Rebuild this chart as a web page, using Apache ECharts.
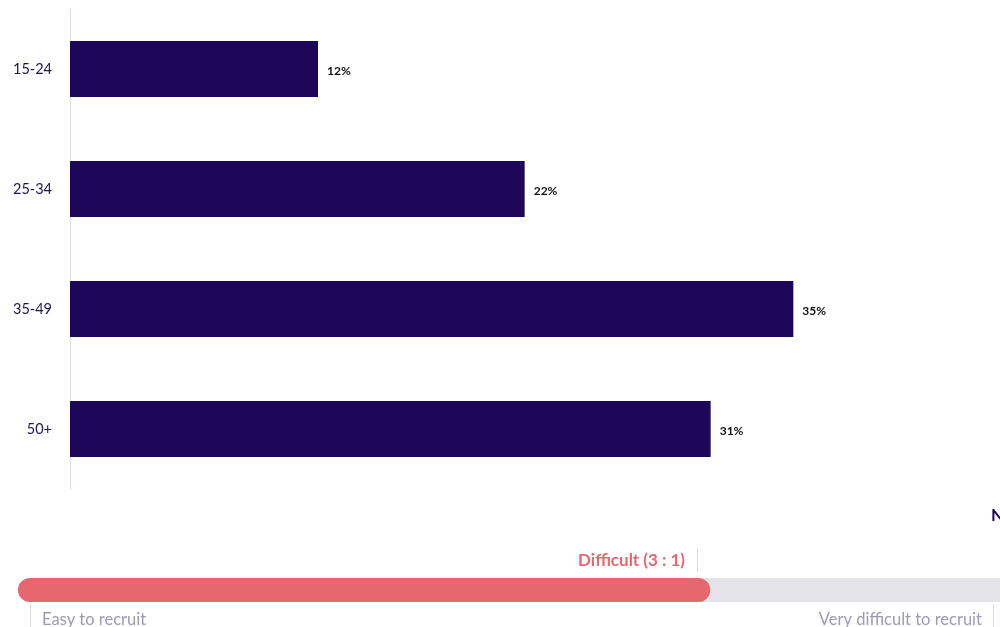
<!DOCTYPE html>
<html><head><meta charset="utf-8">
<script src="https://cdn.jsdelivr.net/npm/echarts@6/dist/echarts.min.js"></script>
<style>html,body{margin:0;padding:0;background:#fff}#c{width:1000px;height:627px}</style>
</head><body><div id="c"></div>
<script>
const categories = ['15-24', '25-34', '35-49', '50+'];
const shares = [12, 22, 35, 31];
const difficultyLabel = 'Difficult (3 : 1)';
const difficultyValue = [70.5];
const scaleLabels = ['Easy to recruit', 'Very difficult to recruit'];

const chart = echarts.init(document.getElementById('c'));
chart.setOption({
  animation: false,
  textStyle: { fontFamily: 'Lato' },
  grid: [
    { left: 70, top: 9, width: 930, height: 480 },
    { left: 18, right: 0, top: 578, height: 24 }
  ],
  xAxis: [
    { gridIndex: 0, type: 'value', min: 0, max: 45, show: false },
    { gridIndex: 1, type: 'value', min: 0, max: 100, show: false }
  ],
  yAxis: [
    { gridIndex: 0, type: 'category', data: categories, inverse: true,
      axisLine: { show: true, lineStyle: { color: '#d9dde5', width: 1 } },
      axisTick: { show: false },
      axisLabel: { color: '#1f1550', fontSize: 14.5, margin: 18, fontFamily: 'Lato' } },
    { gridIndex: 1, type: 'category', data: [''], show: false }
  ],
  series: [
    { type: 'bar', xAxisIndex: 0, yAxisIndex: 0, data: shares, barWidth: 56,
      itemStyle: { color: '#1e0659' },
      label: { show: true, position: 'right', distance: 9, formatter: '{c}%',
        color: '#111', fontSize: 12, fontWeight: 'bold', fontFamily: 'Lato', offset: [0, 2] } },
    { type: 'bar', xAxisIndex: 1, yAxisIndex: 1, data: difficultyValue, barWidth: 24,
      itemStyle: { color: '#e6676d', borderRadius: 12 },
      showBackground: true,
      backgroundStyle: { color: '#e4e3ea', borderRadius: [12, 0, 0, 12] } }
  ],
  graphic: [
    { type: 'text', left: 991, top: 507, style: { text: 'N', fill: '#1e0659', font: 'bold 17px Lato' } },
    { type: 'line', shape: { x1: 697.5, y1: 549, x2: 697.5, y2: 572 }, style: { stroke: '#d9d9df', lineWidth: 1 } },
    { type: 'text', x: 685, y: 561, style: { text: difficultyLabel, fill: '#e6676d', font: 'bold 17px Lato', textAlign: 'right', textVerticalAlign: 'middle' } },
    { type: 'line', shape: { x1: 30.5, y1: 605, x2: 30.5, y2: 627 }, style: { stroke: '#d9d9df', lineWidth: 1 } },
    { type: 'text', x: 42, y: 620, style: { text: scaleLabels[0], fill: '#9d9ab2', font: '16.5px Lato', textVerticalAlign: 'middle' } },
    { type: 'line', shape: { x1: 993.5, y1: 605, x2: 993.5, y2: 627 }, style: { stroke: '#d9d9df', lineWidth: 1 } },
    { type: 'text', x: 982, y: 620, style: { text: scaleLabels[1], fill: '#9d9ab2', font: '16.5px Lato', textAlign: 'right', textVerticalAlign: 'middle' } }
  ]
});
</script></body></html>
